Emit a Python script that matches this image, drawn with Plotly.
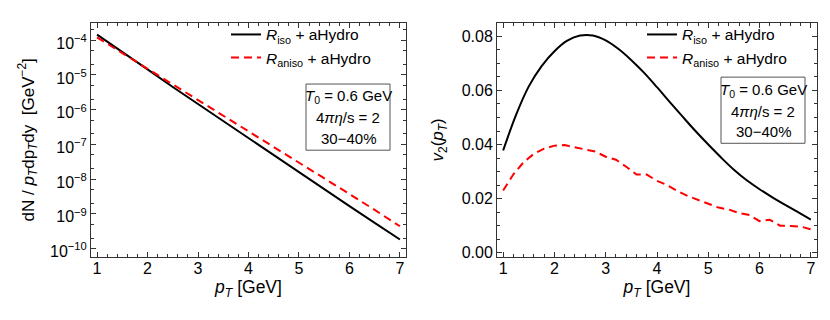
import plotly.graph_objects as go

# ---------------- data ----------------
pt_spec = [1.0, 1.5, 2.0, 2.5, 3.0, 3.5, 4.0, 4.5, 5.0, 5.5, 6.0, 6.5, 7.0]
spec_iso = [1.445e-4, 4.68e-5, 1.445e-5, 4.47e-6, 1.445e-6, 4.47e-7, 1.445e-7,
            4.68e-8, 1.51e-8, 5.0e-9, 1.66e-9, 5.5e-10, 1.82e-10]
spec_aniso = [1.20e-4, 4.27e-5, 1.51e-5, 5.37e-6, 1.91e-6, 6.76e-7, 2.40e-7,
              8.5e-8, 3.02e-8, 1.07e-8, 3.72e-9, 1.29e-9, 4.37e-10]

pt_v2_iso = [1.0, 1.25, 1.5, 1.75, 2.0, 2.25, 2.5, 2.75, 3.0, 3.25, 3.5, 3.75, 4.0,
             4.25, 4.5, 4.75, 5.0, 5.25, 5.5, 5.75, 6.0, 6.25, 6.5, 6.75, 7.0]
v2_iso = [0.0378, 0.0509, 0.0615, 0.0690, 0.0745, 0.0784, 0.0803, 0.0803, 0.0785,
          0.0753, 0.0712, 0.0665, 0.0612, 0.0557, 0.0503, 0.0450, 0.0400, 0.0352,
          0.0307, 0.0268, 0.0235, 0.0205, 0.0177, 0.0150, 0.0123]

pt_v2_aniso = [1.0, 1.2, 1.4, 1.6, 1.8, 2.0, 2.2, 2.4, 2.6, 2.8, 3.0, 3.2, 3.4, 3.6,
               3.8, 4.0, 4.2, 4.4, 4.6, 4.8, 5.0, 5.2, 5.4, 5.6, 5.8, 6.0, 6.2,
               6.4, 6.6, 6.8, 7.0]
v2_aniso = [0.0230, 0.0290, 0.0335, 0.0366, 0.0385, 0.0396, 0.0398, 0.0390, 0.0382,
            0.0374, 0.0355, 0.0344, 0.0318, 0.0289, 0.0289, 0.0266, 0.0250, 0.0228,
            0.0210, 0.0195, 0.0180, 0.0167, 0.0160, 0.0147, 0.0140, 0.0117, 0.0122,
            0.0100, 0.0099, 0.0097, 0.0087]

x_ticks = [1, 2, 3, 4, 5, 6, 7]
log_tickvals = [1e-4, 1e-5, 1e-6, 1e-7, 1e-8, 1e-9, 1e-10]
log_ticktext = ["10<sup>\u22124</sup>", "10<sup>\u22125</sup>", "10<sup>\u22126</sup>",
                "10<sup>\u22127</sup>", "10<sup>\u22128</sup>", "10<sup>\u22129</sup>",
                "10<sup>\u221210</sup>"]
v2_tickvals = [0.0, 0.02, 0.04, 0.06, 0.08]
v2_ticktext = ["0.00", "0.02", "0.04", "0.06", "0.08"]

label_iso = "<i>R</i><sub>iso</sub> + aHydro"
label_aniso = "<i>R</i><sub>aniso</sub> + aHydro"
info_lines = ["<i>T</i><sub>0</sub> = 0.6 GeV", "4<i>\u03c0\u03b7</i>/s = 2", "30\u221240%"]

FONT = "Liberation Sans, Arial, sans-serif"
BLACK = "#000000"
RED = "#ff0000"
FRAME = "#333333"

fig = go.Figure()
fig.add_trace(go.Scatter(x=pt_spec, y=spec_iso, mode="lines", name=label_iso,
                         line=dict(color=BLACK, width=2), xaxis="x", yaxis="y",
                         legend="legend"))
fig.add_trace(go.Scatter(x=pt_spec, y=spec_aniso, mode="lines", name=label_aniso,
                         line=dict(color=RED, width=2, dash="8px,5px"), xaxis="x",
                         yaxis="y", legend="legend"))
fig.add_trace(go.Scatter(x=pt_v2_iso, y=v2_iso, mode="lines", name=label_iso,
                         line=dict(color=BLACK, width=2, shape="spline"),
                         xaxis="x2", yaxis="y2", legend="legend2"))
fig.add_trace(go.Scatter(x=pt_v2_aniso, y=v2_aniso, mode="lines", name=label_aniso,
                         line=dict(color=RED, width=2, dash="8px,5px"),
                         xaxis="x2", yaxis="y2", legend="legend2"))

W, H = 830, 320
ydom = [1 - 252 / H, 1 - 15 / H]

common_axis = dict(showline=True, linecolor=FRAME, linewidth=1, mirror="allticks",
                   ticks="inside", ticklen=5, tickcolor=FRAME, showgrid=False,
                   zeroline=False, tickfont=dict(size=16, color="black", family=FONT))
x_common = dict(common_axis, range=[0.88, 7.12], tickvals=x_ticks,
                ticklabelstandoff=-3,
                minor=dict(dtick=0.2, tick0=1, ticks="inside", ticklen=3,
                           tickcolor=FRAME, showgrid=False),
                title=dict(text="<i>p</i><sub><i>T</i></sub> [GeV]",
                           font=dict(size=17.5, color="black", family=FONT), standoff=3))

annotations = []
shapes = []
boxes = [  # (x0, x1, y0, y1, line centres) in pixels
    (298, 382, 77, 144, [90, 111, 132]),
    (713, 797, 70, 137, [84, 104.5, 125]),
]
for x0, x1, y0, y1, ys in boxes:
    shapes.append(dict(type="rect", xref="paper", yref="paper",
                       x0=x0 / W, x1=x1 / W, y0=1 - y1 / H, y1=1 - y0 / H,
                       line=dict(color="#555555", width=1), fillcolor="white",
                       layer="above"))
    for txt, yc in zip(info_lines, ys):
        annotations.append(dict(text=txt, xref="paper", yref="paper",
                                x=(x0 + x1) / 2 / W, y=1 - yc / H,
                                xanchor="center", yanchor="middle", showarrow=False,
                                font=dict(size=15, color="black", family=FONT)))

fig.update_layout(
    width=W, height=H,
    margin=dict(l=0, r=0, t=0, b=0),
    paper_bgcolor="white", plot_bgcolor="white",
    font=dict(family=FONT, color="black"),
    xaxis=dict(x_common, domain=[83 / W, 398 / W], anchor="y"),
    yaxis=dict(common_axis, type="log", range=[-10.24, -3.5], domain=ydom, anchor="x",
               tickvals=log_tickvals, ticktext=log_ticktext, ticklabelshift=3,
               minor=dict(ticks="inside", ticklen=3, tickcolor=FRAME, showgrid=False),
               title=dict(text="dN / <i>p</i><sub><i>T</i></sub>dp<sub><i>T</i></sub>dy  [GeV<sup>\u22122</sup>]",
                          font=dict(size=17, color="black", family=FONT), standoff=11)),
    xaxis2=dict(x_common, domain=[489 / W, 809 / W], anchor="y2"),
    yaxis2=dict(common_axis, range=[-0.0015, 0.085], domain=ydom, anchor="x2",
                tickvals=v2_tickvals, ticktext=v2_ticktext,
                minor=dict(dtick=0.005, tick0=0, ticks="inside", ticklen=3,
                           tickcolor=FRAME, showgrid=False),
                title=dict(text="<i>v</i><sub>2</sub>(<i>p</i><sub><i>T</i></sub>)",
                           font=dict(size=17, color="black", family=FONT), standoff=13)),
    legend=dict(x=218 / W, y=1 - 10 / H, xanchor="left", yanchor="top",
                bgcolor="rgba(0,0,0,0)", itemwidth=30, tracegroupgap=0,
                font=dict(size=15.5, color="black", family=FONT)),
    legend2=dict(x=634 / W, y=1 - 10 / H, xanchor="left", yanchor="top",
                 bgcolor="rgba(0,0,0,0)", itemwidth=30, tracegroupgap=0,
                 font=dict(size=15.5, color="black", family=FONT)),
    shapes=shapes,
    annotations=annotations,
)

fig.write_html("out.html")
